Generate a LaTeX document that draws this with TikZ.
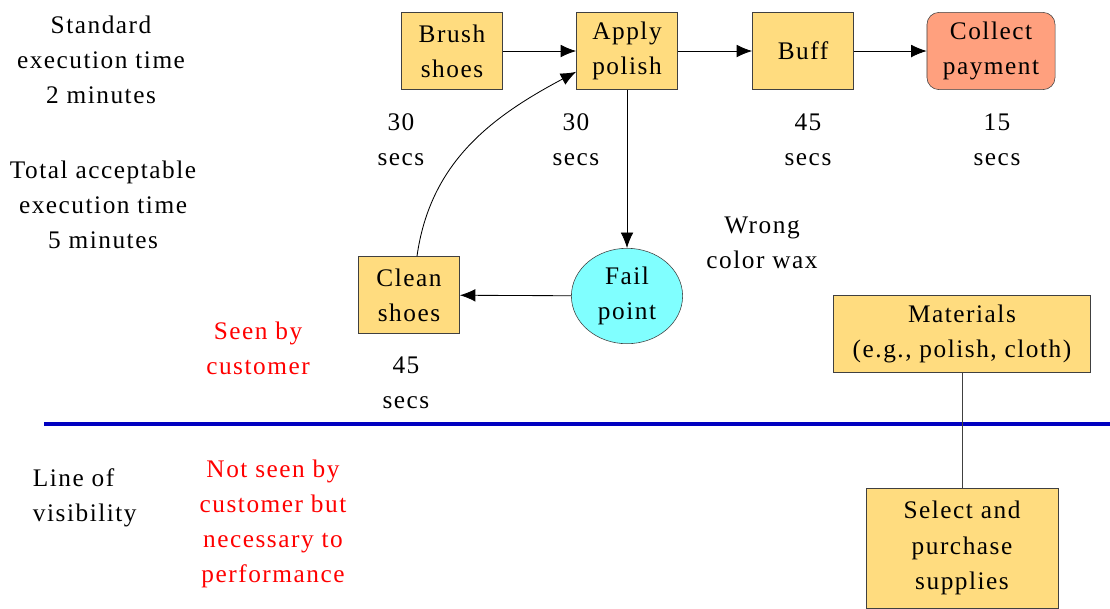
\documentclass[tikz,border=0pt]{standalone}
\usepackage{fontspec}
\setmainfont{Liberation Serif}[LetterSpace=6]
\usepackage{tikz}
\usetikzlibrary{arrows.meta,shapes.geometric}
\definecolor{boxfill}{HTML}{FFDC7F}
\definecolor{payfill}{HTML}{FFA07E}
\definecolor{failfill}{HTML}{80FFFF}
\definecolor{linegray}{HTML}{404040}
\definecolor{visblue}{HTML}{0000C0}

\begin{document}
\begin{tikzpicture}[x=0.025cm, y=-0.025cm,
      every node/.style={font=\fontsize{18}{25}\selectfont, align=center},
      stepbox/.style={draw=linegray, rectangle, fill=boxfill, minimum width=2.53cm, minimum height=1.93cm},
      paybox/.style={stepbox, fill=payfill, rounded corners=0.3cm, minimum width=3.2cm},
      failpt/.style={draw=linegray, ellipse, fill=failfill, minimum width=2.78cm, minimum height=2.08cm},
      flow/.style={-{Latex[length=11pt,width=9pt]}, line width=0.6pt},
      note/.style={text=red}]
    \useasboundingbox (0,0) rectangle (1110,608);

    % service steps
    \node[stepbox] (brush) at (452,51) {Brush\\shoes};
    \node[stepbox] (apply) at (627,51) {Apply\\polish};
    \node[stepbox] (buff) at (803,51) {Buff};
    \node[paybox] (collect) at (991,51) {Collect\\payment};
    \node[failpt] (fail) at (627,296) {Fail\\point};
    \node[stepbox] (clean) at (409,295) {Clean\\shoes};
    \node[stepbox, minimum width=6.43cm] (materials) at (962,334) {Materials\\(e.g., polish, cloth)};
    \node[stepbox, minimum width=4.8cm, minimum height=3cm] (supplies) at (962,548) {Select and\\purchase\\supplies};

    % times and notes
    \node (stdtime) at (101,60) {Standard\\execution time\\2 minutes};
    \node (tottime) at (103,205) {Total acceptable\\execution time\\5 minutes};
    \node (tbrush) at (401,140) {30\\secs};
    \node (tapply) at (576,140) {30\\secs};
    \node (tbuff) at (808,140) {45\\secs};
    \node (tcollect) at (997,140) {15\\secs};
    \node (tclean) at (406,383) {45\\secs};
    \node (wax) at (762,243) {Wrong\\color wax};
    \node[note] (seen) at (258,348) {Seen by\\customer};
    \node[align=left, anchor=west] (visline) at (28,498) {Line of\\visibility};
    \node[note] (unseen) at (273,524) {Not seen by\\customer but\\necessary to\\performance};

    % line of visibility
    \coordinate (visL) at (44,424);
    \coordinate (visR) at (1110,424);
    \draw[visblue, line width=2.2pt] (visL) -- (visR);

    % connectors
    \draw[flow] (brush) -- (apply);
    \draw[flow] (apply) -- (buff);
    \draw[flow] (buff) -- (collect);
    \draw[flow] (apply) -- (fail);
    \draw[flow] (fail) -- (clean);
    \draw[flow] ([xshift=0.2cm]clean.north) to[out=82, in=208] ([yshift=-0.52cm]apply.west);
    \draw[linegray, line width=0.6pt] (materials) -- (supplies);
\end{tikzpicture}
\end{document}
